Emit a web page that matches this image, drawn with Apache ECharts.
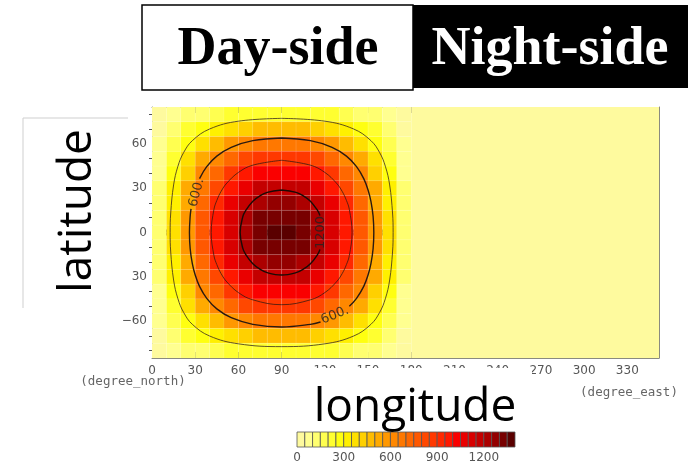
<!DOCTYPE html>
<html>
<head>
<meta charset="utf-8">
<script src="https://cdn.jsdelivr.net/npm/echarts@6/dist/echarts.min.js"></script>
<style>
  html, body { margin: 0; padding: 0; background: #fff; }
  #main { width: 690px; height: 464px; }
</style>
</head>
<body>
<div id="main"></div>
<script>
// grid cell centres (degrees)
const lonCenters = [5, 15, 25, 35, 45, 55, 65, 75, 85, 95, 105, 115, 125, 135, 145, 155, 165, 175];
const latCenters = [80, 70, 60, 50, 40, 30, 20, 10, 0, -10, -20, -30, -40, -50, -60, -70, -80];

// day-side values, one row per latitude (north to south)
const dayValues = [
  [20, 60, 100, 140, 170, 200, 220, 230, 240, 240, 230, 220, 200, 170, 140, 100, 60, 20],
  [40, 120, 200, 270, 330, 380, 430, 450, 470, 470, 450, 430, 380, 330, 270, 200, 120, 40],
  [60, 180, 290, 390, 480, 560, 620, 660, 680, 680, 660, 620, 560, 480, 390, 290, 180, 60],
  [80, 230, 370, 510, 620, 720, 800, 850, 880, 880, 850, 800, 720, 620, 510, 370, 230, 80],
  [90, 270, 440, 600, 740, 860, 950, 1010, 1040, 1040, 1010, 950, 860, 740, 600, 440, 270, 90],
  [100, 310, 500, 680, 840, 970, 1070, 1150, 1180, 1180, 1150, 1070, 970, 840, 680, 500, 310, 100],
  [110, 330, 540, 740, 910, 1050, 1170, 1240, 1280, 1280, 1240, 1170, 1050, 910, 740, 540, 330, 110],
  [120, 350, 570, 770, 950, 1110, 1220, 1300, 1340, 1340, 1300, 1220, 1110, 950, 770, 570, 350, 120],
  [120, 350, 580, 790, 970, 1120, 1240, 1320, 1360, 1360, 1320, 1240, 1120, 970, 790, 580, 350, 120],
  [120, 350, 570, 770, 950, 1110, 1220, 1300, 1340, 1340, 1300, 1220, 1110, 950, 770, 570, 350, 120],
  [110, 330, 540, 740, 910, 1050, 1170, 1240, 1280, 1280, 1240, 1170, 1050, 910, 740, 540, 330, 110],
  [100, 310, 500, 680, 840, 970, 1070, 1150, 1180, 1180, 1150, 1070, 970, 840, 680, 500, 310, 100],
  [90, 270, 440, 600, 740, 860, 950, 1010, 1040, 1040, 1010, 950, 860, 740, 600, 440, 270, 90],
  [80, 230, 370, 510, 620, 720, 800, 850, 880, 880, 850, 800, 720, 620, 510, 370, 230, 80],
  [60, 180, 290, 390, 480, 560, 620, 660, 680, 680, 660, 620, 560, 480, 390, 290, 180, 60],
  [40, 120, 200, 270, 330, 380, 430, 450, 470, 470, 450, 430, 380, 330, 270, 200, 120, 40],
  [20, 60, 100, 140, 170, 200, 220, 230, 240, 240, 230, 220, 200, 170, 140, 100, 60, 20]
];

// night side is flat
const nightLon = [180, 360];
const nightValue = 0;

// axes
const lonTicks = [0, 30, 60, 90, 120, 150, 180, 210, 240, 270, 300, 330];
const lonMinorTicks = [10, 20, 40, 50, 70, 80, 100, 110, 130, 140, 160, 170, 190, 200, 220, 230, 250, 260, 280, 290, 310, 320, 340, 350];
const latTicks = [-60, -30, 0, 30, 60];
const latTickLabels = ["\u221260", "30", "0", "30", "60"]; // as printed (minus lost on -30)
const latMinorTicks = [-80, -70, -50, -40, -20, -10, 10, 20, 40, 50, 70, 80];

// colour bar
const levelBounds = [0, 50, 100, 150, 200, 250, 300, 350, 400, 450, 500, 550, 600, 650, 700,
  750, 800, 850, 900, 950, 1000, 1050, 1100, 1150, 1200, 1250, 1300, 1350, 1400];
const colorbarTicks = [0, 300, 600, 900, 1200];

// contour lines [lon, lat], null = gap for the label
const contour300 = [[90, 77.3], [60, 75.4], [40, 70.1], [28, 62.2], [22, 54.2], [18, 44.9], [15, 32.2], [13, 13.2], [12.6, 0],
  [13, -13.2], [15, -32.2], [18, -44.9], [22, -54.2], [28, -62.2], [40, -70.1], [60, -75.4], [90, -77.3], [120, -75.4],
  [140, -70.1], [152, -62.2], [158, -54.2], [162, -44.9], [165, -32.2], [167, -13.2], [167.4, 0], [167, 13.2], [165, 32.2],
  [162, 44.9], [158, 54.2], [152, 62.2], [140, 70.1], [120, 75.4], [90, 77.3]];
const contour600 = [[90, 64], [70, 62.2], [55, 57.7], [45, 51.7], [38, 44.6], [33, 36.5], null,
  [27.1, 16], [26.5, 11], [26, 0], [26.5, -11], [28, -21.1], [30, -28.8], [33, -36.5], [38, -44.6], [45, -51.7], [55, -57.7],
  [70, -62.2], [90, -64], [110, -62.2], [117, -60.6], null,
  [137, -50], [142, -44.6], [147, -36.5], [150, -28.8], [152, -21.1], [153.5, -11], [154, 0], [153.5, 11], [152, 21.1],
  [150, 28.8], [147, 36.5], [142, 44.6], [135, 51.7], [125, 57.7], [110, 62.2], [90, 64]];
const contour900 = [[90, 48.9], [70, 45.6], [60, 40.7], [52, 33.5], [48, 27.9], [45, 21.7], [43, 15.6], [41.1, 0], [43, -15.6],
  [45, -21.7], [48, -27.9], [52, -33.5], [60, -40.7], [70, -45.6], [90, -48.9], [110, -45.6], [120, -40.7], [128, -33.5],
  [132, -27.9], [135, -21.7], [137, -15.6], [138.9, 0], [137, 15.6], [135, 21.7], [132, 27.9], [128, 33.5], [120, 40.7],
  [110, 45.6], [90, 48.9]];
const contour1200 = [[90, 28.8], [80, 27.2], [75, 24.9], [70, 21.2], [65, 14.8], [63, 10.6], [61.2, 0], [63, -10.6], [65, -14.8],
  [70, -21.2], [75, -24.9], [80, -27.2], [90, -28.8], [100, -27.2], [105, -24.9], [110, -21.2], [115, -14.8], [116.6, -11.5], null,
  [116.6, 11.5], [115, 14.8], [110, 21.2], [105, 24.9], [100, 27.2], [90, 28.8]];

const contourLabelText = ["600.", "600.", "1200"];
const contourLabelLon = [31, 127, 117];
const contourLabelLat = [27, -56, 0];
const contourLabelAngle = [75, 22, 90];

// styles
const levelColors = ["#fefa9e", "#ffff90", "#ffff70", "#ffff50", "#ffff30", "#ffff10", "#fff000", "#ffe000",
  "#ffd000", "#ffbc00", "#ffaa00", "#ff9800", "#ff8800", "#ff7800", "#ff6800", "#ff5800", "#ff4800", "#ff3800",
  "#ff2800", "#ff1800", "#fa0000", "#ea0000", "#d80000", "#c40000", "#ac0000", "#940000", "#780000", "#5a0000"];
const cellHalf = 5;
const tickFont = "DejaVu Sans";

function levelColor(v) {
  let i = 0;
  while (i < levelColors.length - 1 && v >= levelBounds[i + 1]) i++;
  return levelColors[i];
}

const cellData = [];
latCenters.forEach((lat, i) => {
  lonCenters.forEach((lon, j) => {
    cellData.push([lon, lat, dayValues[i][j]]);
  });
});

const myChart = echarts.init(document.getElementById("main"), null, { renderer: "canvas" });

const frameColor = "#8a8a80";
const lonAxisBase = { gridIndex: 0, type: "value", min: 0, max: 352, z: 0, splitLine: { show: false } };
const latAxisBase = { gridIndex: 0, type: "value", min: -85, max: 85, z: 0, splitLine: { show: false } };

const option = {
  animation: false,
  grid: [
    { left: 152, top: 107, width: 507, height: 251 },
    { left: 297, top: 432, width: 218, height: 15 }
  ],
  xAxis: [
    Object.assign({}, lonAxisBase, {
      position: "bottom",
      axisLine: { show: true, onZero: false, lineStyle: { color: frameColor, width: 1 } },
      axisTick: { show: true, inside: true, length: 6, customValues: lonTicks, lineStyle: { color: "#444" } },
      axisLabel: { show: true, customValues: lonTicks, color: "#555", fontSize: 12, fontFamily: tickFont, margin: 7 }
    }),
    Object.assign({}, lonAxisBase, {
      position: "bottom",
      axisLine: { show: false },
      axisTick: { show: true, inside: true, length: 3, customValues: lonMinorTicks, lineStyle: { color: "#555" } },
      axisLabel: { show: false }
    }),
    Object.assign({}, lonAxisBase, {
      position: "top",
      axisLine: { show: true, onZero: false, lineStyle: { color: frameColor, width: 1 } },
      axisTick: { show: true, inside: true, length: 6, customValues: lonTicks, lineStyle: { color: "#444" } },
      axisLabel: { show: false }
    }),
    Object.assign({}, lonAxisBase, {
      position: "top",
      axisLine: { show: false },
      axisTick: { show: true, inside: true, length: 3, customValues: lonMinorTicks, lineStyle: { color: "#555" } },
      axisLabel: { show: false }
    }),
    {
      gridIndex: 1, type: "value", min: 0, max: 1400,
      axisLine: { show: false }, axisTick: { show: false }, splitLine: { show: false },
      axisLabel: { customValues: colorbarTicks, color: "#555", fontSize: 12, fontFamily: tickFont, margin: 5,
        formatter: (v) => String(v) }
    }
  ],
  yAxis: [
    Object.assign({}, latAxisBase, {
      position: "left",
      axisLine: { show: true, onZero: false, lineStyle: { color: frameColor, width: 1 } },
      axisTick: { show: true, inside: true, length: 6, customValues: latTicks, lineStyle: { color: "#444" } },
      axisLabel: {
        show: true, customValues: latTicks, color: "#555", fontSize: 12, fontFamily: tickFont, margin: 5,
        formatter: (v) => latTickLabels[latTicks.indexOf(v)]
      }
    }),
    Object.assign({}, latAxisBase, {
      position: "left",
      axisLine: { show: false },
      axisTick: { show: true, inside: true, length: 3, customValues: latMinorTicks, lineStyle: { color: "#555" } },
      axisLabel: { show: false }
    }),
    Object.assign({}, latAxisBase, {
      position: "right",
      axisLine: { show: true, onZero: false, lineStyle: { color: frameColor, width: 1 } },
      axisTick: { show: true, inside: true, length: 6, customValues: latTicks, lineStyle: { color: "#444" } },
      axisLabel: { show: false }
    }),
    Object.assign({}, latAxisBase, {
      position: "right",
      axisLine: { show: false },
      axisTick: { show: true, inside: true, length: 3, customValues: latMinorTicks, lineStyle: { color: "#555" } },
      axisLabel: { show: false }
    }),
    {
      gridIndex: 1, type: "value", min: 0, max: 1, show: false
    }
  ],
  graphic: {
    elements: [
      // title boxes
      { type: "rect", z: 100, shape: { x: 142, y: 5, width: 271, height: 85 },
        style: { fill: "#fff", stroke: "#000", lineWidth: 1.5 } },
      { type: "rect", z: 100, shape: { x: 413, y: 5, width: 275, height: 83 }, style: { fill: "#000" } },
      { type: "text", z: 101, x: 278, y: 50,
        style: { text: "Day-side", fill: "#000", font: "bold 54px 'Liberation Serif'", align: "center", verticalAlign: "middle" } },
      { type: "text", z: 101, x: 550, y: 50,
        style: { text: "Night-side", fill: "#fff", font: "bold 54px 'Liberation Serif'", align: "center", verticalAlign: "middle" } },
      // bracket beside latitude
      { type: "polyline", z: 100, shape: { points: [[128, 118], [23, 118], [23, 308]] },
        style: { stroke: "#cfcfcf", lineWidth: 1, fill: null } },
      { type: "text", z: 101, x: 78, y: 211, rotation: Math.PI / 2,
        style: { text: "latitude", fill: "#000", font: "46px 'Open Sans'", align: "center", verticalAlign: "middle" } },
      // white box behind longitude (covers the lower part of some tick labels)
      { type: "rect", z: 100, shape: { x: 305, y: 368, width: 227, height: 61 }, style: { fill: "#fff" } },
      { type: "text", z: 130, x: 415, y: 408,
        style: { text: "longitude", fill: "#000", font: "46px 'Open Sans'", align: "center", verticalAlign: "middle" } },
      { type: "text", z: 101, x: 133, y: 382,
        style: { text: "(degree_north)", fill: "#666", font: "12.5px 'DejaVu Sans Mono'", align: "center", verticalAlign: "middle" } },
      { type: "text", z: 101, x: 629, y: 393,
        style: { text: "(degree_east)", fill: "#666", font: "12.5px 'DejaVu Sans Mono'", align: "center", verticalAlign: "middle" } }
    ]
  },
  series: [
    {
      type: "custom",
      name: "night",
      xAxisIndex: 0, yAxisIndex: 0,
      clip: true,
      data: [[nightLon[0], nightLon[1], nightValue]],
      renderItem: (params, api) => {
        const cs = params.coordSys;
        const a = api.coord([api.value(0), 0]);
        const b = api.coord([api.value(1), 0]);
        return { type: "rect", shape: { x: a[0], y: cs.y, width: b[0] - a[0], height: cs.height },
          style: { fill: levelColor(api.value(2)) } };
      }
    },
    {
      type: "custom",
      name: "day",
      xAxisIndex: 0, yAxisIndex: 0,
      clip: true,
      data: cellData,
      renderItem: (params, api) => {
        const lon = api.value(0), lat = api.value(1);
        const p0 = api.coord([lon - cellHalf, lat + cellHalf]);
        const p1 = api.coord([lon + cellHalf, lat - cellHalf]);
        const c = levelColor(api.value(2));
        return { type: "rect", shape: { x: p0[0], y: p0[1], width: p1[0] - p0[0], height: p1[1] - p0[1] },
          style: { fill: c, stroke: "rgba(255,255,255,0.14)", lineWidth: 0.6 } };
      }
    },
    { type: "line", name: "c300", data: contour300, smooth: 0.4, symbol: "none", connectNulls: false,
      lineStyle: { color: "#3a2a20", width: 0.8 }, z: 4 },
    { type: "line", name: "c600", data: contour600, smooth: 0.4, symbol: "none", connectNulls: false,
      lineStyle: { color: "#2a1a10", width: 1.4 }, z: 4 },
    { type: "line", name: "c900", data: contour900, smooth: 0.4, symbol: "none", connectNulls: false,
      lineStyle: { color: "#3a1a10", width: 0.8 }, z: 4 },
    { type: "line", name: "c1200", data: contour1200, smooth: 0.4, symbol: "none", connectNulls: false,
      lineStyle: { color: "#1a0a05", width: 1.4 }, z: 4 },
    {
      type: "scatter", symbolSize: 0, z: 5,
      data: contourLabelText.map((t, i) => ({
        name: t, value: [contourLabelLon[i], contourLabelLat[i]],
        label: { rotate: contourLabelAngle[i] }
      })),
      label: { show: true, position: "inside", formatter: "{b}", color: "#222", fontSize: 13, fontFamily: tickFont }
    },
    {
      type: "custom",
      name: "colorbar",
      xAxisIndex: 4, yAxisIndex: 4,
      z: 120,
      data: levelColors.map((c, i) => [levelBounds[i], levelBounds[i + 1], i]),
      renderItem: (params, api) => {
        const p0 = api.coord([api.value(0), 1]);
        const p1 = api.coord([api.value(1), 0]);
        return { type: "rect", shape: { x: p0[0], y: p0[1], width: p1[0] - p0[0], height: p1[1] - p0[1] },
          style: { fill: levelColors[api.value(2)], stroke: "#555", lineWidth: 0.8 } };
      }
    }
  ]
};

option && myChart.setOption(option);
</script>
</body>
</html>
